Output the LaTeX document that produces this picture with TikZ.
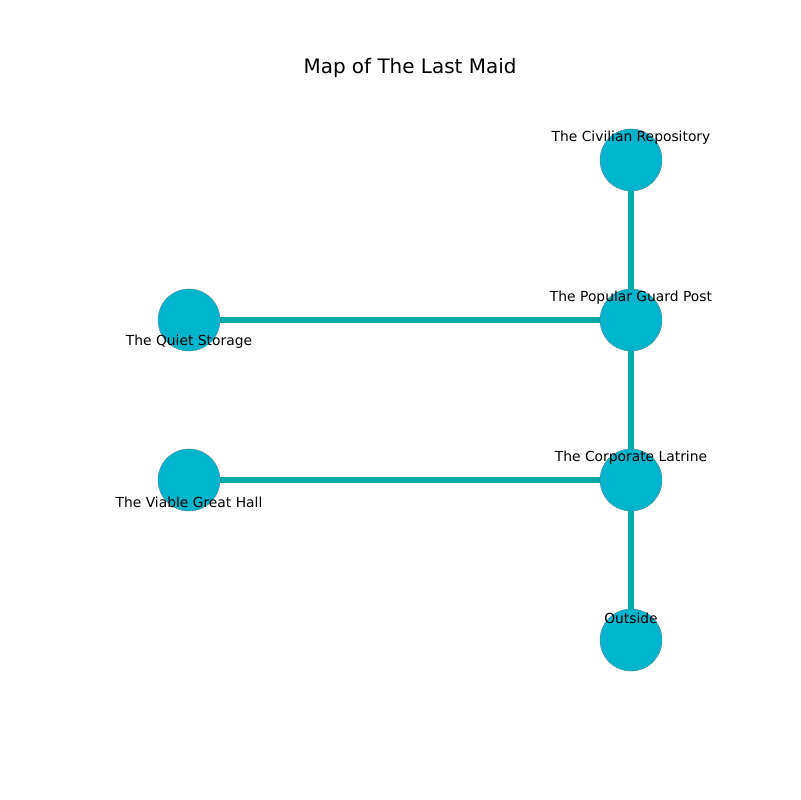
\documentclass[tikz,border=0pt]{standalone}
\usepackage{fontspec}
\setmainfont{DejaVu Sans}
\usetikzlibrary{positioning}
\definecolor{room}{HTML}{00B4CC}
\definecolor{passage}{HTML}{00A9A8}
\definecolor{rim}{HTML}{5A8A94}

\begin{document}
\begin{tikzpicture}[x=0.01in,y=-0.01in,
  room/.style={circle,fill=room,draw=rim,line width=0.3pt,minimum size=0.62in,inner sep=0pt},
  link/.style={draw=passage,line width=4pt},
  tag/.style={font=\fontsize{10}{12}\selectfont,text=black,inner sep=0pt}]
\useasboundingbox (0,0) rectangle (800,800);
\node[font=\fontsize{14.4}{17}\selectfont] (title) at (410,68) {Map of The Last Maid};
% rooms
\node[room] (civ) at (631,160) {};
\node[room] (guard) at (631,320) {};
\node[room] (quiet) at (189,320) {};
\node[room] (latrine) at (631,480) {};
\node[room] (hall) at (189,480) {};
\node[room] (out) at (631,640) {};
% passages
\path[link] (civ) -- (guard);
\path[link] (quiet) -- (guard);
\path[link] (guard) -- (latrine);
\path[link] (hall) -- (latrine);
\path[link] (latrine) -- (out);
% labels
\node[tag] (civtag) at (631,138) {The Civilian Repository};
\node[tag] (guardtag) at (631,298) {The Popular Guard Post};
\node[tag] (quiettag) at (189,342) {The Quiet Storage};
\node[tag] (latrinetag) at (631,458) {The Corporate Latrine};
\node[tag] (halltag) at (189,502) {The Viable Great Hall};
\node[tag] (outtag) at (631,618) {Outside};
\end{tikzpicture}
\end{document}
